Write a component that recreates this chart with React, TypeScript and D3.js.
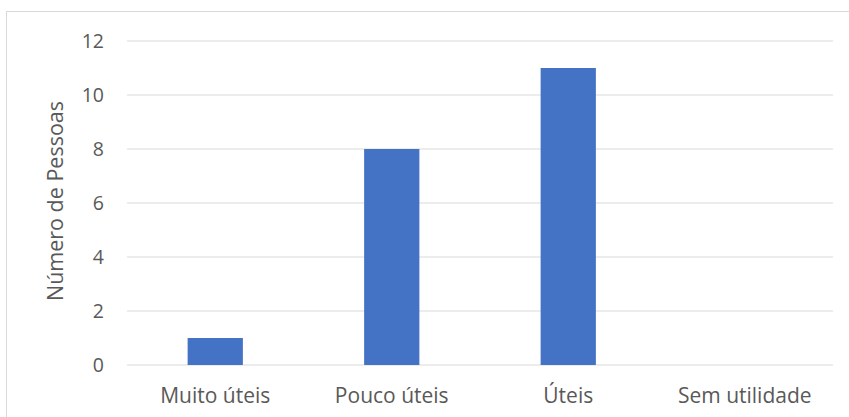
import React from "react";
import * as d3 from "d3";

const categories = ["Muito úteis", "Pouco úteis", "Úteis", "Sem utilidade"];
const values = [1, 8, 11, 0];
const yTicks = [0, 2, 4, 6, 8, 10, 12];
const yTitle = "Número de Pessoas";

export default function App() {
  const W = 849, H = 417;
  const x = d3.scaleBand<string>().domain(categories).range([127, 833]).padding(0);
  const y = d3.scaleLinear().domain([0, 12]).range([365, 41]);
  const barW = x.bandwidth() * 0.313;
  const font = "'Open Sans', sans-serif";
  const textColor = "#595959";
  return (
    <svg width={W} height={H} style={{ position: "absolute", left: 0, top: 0 }}>
      <rect x={0} y={0} width={W} height={H} fill="#fff" />
      <rect x={6.5} y={11.5} width={W + 10} height={H + 10} fill="none" stroke="#d9d9d9" strokeWidth={1} />
      {yTicks.map((t) => (
        <g key={t}>
          <line x1={127} x2={833} y1={y(t)} y2={y(t)} stroke="#d9d9d9" strokeWidth={1} />
          <text x={104} y={y(t)} dy="0.36em" textAnchor="end" fontFamily={font} fontSize={19.5} fill={textColor}>
            {t}
          </text>
        </g>
      ))}
      {categories.map((c, i) => (
        <g key={c}>
          {values[i] > 0 && (
            <rect
              x={(x(c) as number) + x.bandwidth() / 2 - barW / 2}
              y={y(values[i])}
              width={barW}
              height={y(0) - y(values[i])}
              fill="#4472c4"
            />
          )}
          <text
            x={(x(c) as number) + x.bandwidth() / 2}
            y={403}
            textAnchor="middle"
            fontFamily={font}
            fontSize={21}
            fill={textColor}
          >
            {c}
          </text>
        </g>
      ))}
      <text
        transform={`translate(63, ${y(6) - 2}) rotate(-90)`}
        textAnchor="middle"
        fontFamily={font}
        fontSize={21.5}
        fill={textColor}
      >
        {yTitle}
      </text>
    </svg>
  );
}
